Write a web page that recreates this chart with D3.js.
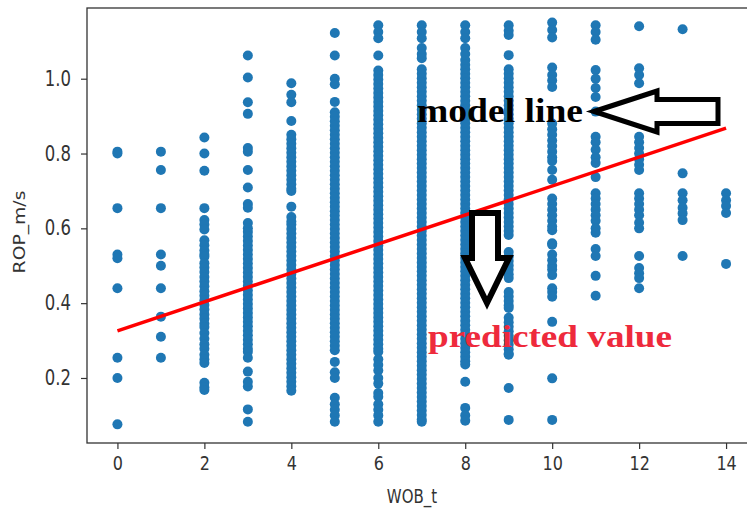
<!DOCTYPE html>
<html>
<head>
<meta charset="utf-8">
<script src="https://cdn.jsdelivr.net/npm/d3@7"></script>
<style>
  html, body { margin: 0; padding: 0; background: #ffffff; }
  svg { display: block; }
</style>
</head>
<body>
<svg id="chart" width="747" height="513"></svg>
<script>
// ---------------- data ----------------
const wobValues = [0, 1, 2, 3, 4, 5, 6, 7, 8, 9, 10, 11, 12, 13, 14];

const rop0 = [0.805, 0.80, 0.654, 0.53, 0.52, 0.44, 0.254, 0.20, 0.076];
const rop1 = [0.805, 0.756, 0.654, 0.53, 0.50, 0.44, 0.364, 0.31, 0.254];
const rop2 = [0.843, 0.80, 0.754, 0.654, 0.622, 0.61, 0.597, 0.568, 0.555, 0.541, 0.53, 0.524,
  0.507, 0.495, 0.483, 0.47, 0.458, 0.445, 0.432, 0.42, 0.408, 0.395, 0.383, 0.37, 0.358, 0.345,
  0.336, 0.32, 0.305, 0.29, 0.278, 0.262, 0.25, 0.24, 0.187, 0.175, 0.168];
const rop3 = [1.062, 1.003, 0.937, 0.906, 0.815, 0.805, 0.756, 0.709, 0.665, 0.655, 0.614, 0.60,
  0.59, 0.578, 0.566, 0.554, 0.542, 0.53, 0.518, 0.506, 0.494, 0.482, 0.47, 0.458, 0.446, 0.434,
  0.422, 0.41, 0.398, 0.386, 0.374, 0.362, 0.35, 0.338, 0.326, 0.314, 0.302, 0.29, 0.278, 0.27,
  0.254, 0.217, 0.177, 0.19, 0.116, 0.083];
const rop4 = [0.988, 0.957, 0.937, 0.887, 0.85, 0.838, 0.826, 0.814, 0.802, 0.79, 0.778, 0.766,
  0.754, 0.742, 0.73, 0.718, 0.706, 0.70, 0.658, 0.63, 0.618, 0.61, 0.598, 0.586, 0.574, 0.562,
  0.55, 0.538, 0.526, 0.514, 0.502, 0.49, 0.478, 0.466, 0.454, 0.442, 0.43, 0.418, 0.406, 0.394,
  0.382, 0.37, 0.358, 0.346, 0.334, 0.322, 0.31, 0.298, 0.286, 0.274, 0.262, 0.25, 0.238, 0.226,
  0.214, 0.202, 0.19, 0.178, 0.166];
const rop5 = [1.122, 1.062, 1.0, 0.985, 0.938, 0.91, 0.898, 0.886, 0.874, 0.862, 0.85, 0.838,
  0.826, 0.814, 0.802, 0.79, 0.778, 0.766, 0.754, 0.742, 0.73, 0.718, 0.706, 0.694, 0.682, 0.67,
  0.658, 0.646, 0.634, 0.622, 0.61, 0.598, 0.586, 0.574, 0.562, 0.55, 0.538, 0.526, 0.514, 0.502,
  0.49, 0.478, 0.466, 0.454, 0.442, 0.43, 0.418, 0.406, 0.394, 0.382, 0.37, 0.358, 0.346, 0.334,
  0.322, 0.31, 0.298, 0.286, 0.274, 0.243, 0.215, 0.20, 0.147, 0.13, 0.115, 0.10, 0.083];
const rop6 = [1.143, 1.125, 1.108, 1.062, 1.022, 1.01, 0.998, 0.986, 0.974, 0.962, 0.95, 0.938,
  0.926, 0.914, 0.902, 0.89, 0.878, 0.866, 0.854, 0.842, 0.83, 0.818, 0.806, 0.794, 0.782, 0.77,
  0.758, 0.746, 0.734, 0.722, 0.71, 0.698, 0.686, 0.674, 0.662, 0.65, 0.638, 0.626, 0.614, 0.602,
  0.59, 0.578, 0.566, 0.554, 0.542, 0.53, 0.518, 0.506, 0.494, 0.482, 0.47, 0.458, 0.446, 0.434,
  0.422, 0.41, 0.398, 0.386, 0.374, 0.362, 0.35, 0.338, 0.326, 0.314, 0.302, 0.29, 0.278, 0.27,
  0.25, 0.235, 0.22, 0.20, 0.185, 0.16, 0.15, 0.13, 0.115, 0.10, 0.083];
const rop7 = [1.143, 1.125, 1.108, 1.082, 1.066, 1.055, 1.025, 1.013, 1.001, 0.989, 0.977, 0.965,
  0.953, 0.941, 0.929, 0.917, 0.905, 0.893, 0.881, 0.869, 0.857, 0.845, 0.833, 0.821, 0.809,
  0.797, 0.785, 0.773, 0.761, 0.749, 0.737, 0.725, 0.713, 0.701, 0.689, 0.677, 0.665, 0.653,
  0.641, 0.629, 0.617, 0.605, 0.593, 0.581, 0.569, 0.557, 0.545, 0.533, 0.521, 0.509, 0.497,
  0.485, 0.473, 0.461, 0.449, 0.437, 0.425, 0.413, 0.401, 0.389, 0.377, 0.365, 0.353, 0.341,
  0.329, 0.317, 0.305, 0.293, 0.281, 0.269, 0.257, 0.245, 0.233, 0.221, 0.209, 0.197, 0.185,
  0.173, 0.161, 0.149, 0.137, 0.125, 0.113, 0.101, 0.089, 0.083];
const rop8 = [1.143, 1.125, 1.108, 1.082, 1.066, 1.05, 1.037, 1.025, 1.013, 1.001, 0.989, 0.977,
  0.965, 0.953, 0.941, 0.929, 0.917, 0.905, 0.893, 0.881, 0.869, 0.857, 0.845, 0.833, 0.821,
  0.809, 0.797, 0.785, 0.773, 0.761, 0.749, 0.737, 0.725, 0.713, 0.701, 0.689, 0.677, 0.665,
  0.653, 0.641, 0.629, 0.617, 0.605, 0.593, 0.581, 0.569, 0.557, 0.545, 0.533, 0.521, 0.509,
  0.497, 0.485, 0.473, 0.461, 0.449, 0.437, 0.425, 0.413, 0.401, 0.389, 0.377, 0.365, 0.353,
  0.341, 0.329, 0.317, 0.305, 0.293, 0.281, 0.269, 0.257, 0.245, 0.236, 0.19, 0.12, 0.10, 0.086];
const rop9 = [1.143, 1.128, 1.117, 1.063, 1.025, 1.013, 1.001, 0.989, 0.977, 0.965, 0.953, 0.941,
  0.929, 0.917, 0.905, 0.893, 0.881, 0.869, 0.857, 0.845, 0.833, 0.821, 0.809, 0.797, 0.785,
  0.773, 0.761, 0.749, 0.737, 0.725, 0.713, 0.701, 0.689, 0.677, 0.665, 0.653, 0.641, 0.629,
  0.617, 0.605, 0.593, 0.582, 0.537, 0.525, 0.513, 0.501, 0.489, 0.477, 0.467, 0.43, 0.418,
  0.406, 0.394, 0.387, 0.361, 0.349, 0.337, 0.325, 0.313, 0.301, 0.289, 0.277, 0.265, 0.262,
  0.173, 0.088];
const rop10 = [1.15, 1.13, 1.11, 1.03, 1.01, 0.995, 0.978, 0.88, 0.865, 0.85, 0.835, 0.82, 0.805,
  0.79, 0.78, 0.756, 0.73, 0.68, 0.665, 0.65, 0.635, 0.62, 0.605, 0.595, 0.56, 0.556, 0.53, 0.515,
  0.50, 0.49, 0.475, 0.44, 0.43, 0.417, 0.35, 0.199, 0.088];
const rop11 = [1.143, 1.125, 1.104, 1.023, 1.0, 0.975, 0.951, 0.912, 0.845, 0.83, 0.81, 0.79,
  0.775, 0.737, 0.694, 0.68, 0.665, 0.65, 0.635, 0.62, 0.60, 0.588, 0.545, 0.526, 0.473, 0.42];
const rop12 = [1.14, 1.028, 1.01, 0.988, 0.845, 0.83, 0.815, 0.80, 0.785, 0.77, 0.756, 0.694,
  0.68, 0.665, 0.65, 0.635, 0.615, 0.60, 0.526, 0.494, 0.48, 0.467, 0.44];
const rop13 = [1.132, 0.747, 0.694, 0.675, 0.655, 0.64, 0.622, 0.526];
const rop14 = [0.694, 0.675, 0.66, 0.641, 0.505];

const ropByWob = [rop0, rop1, rop2, rop3, rop4, rop5, rop6, rop7, rop8, rop9, rop10, rop11, rop12, rop13, rop14];

// fitted model line
const lineWob = [0, 14];
const lineRop = [0.326, 0.868];

const xTicks = [0, 2, 4, 6, 8, 10, 12, 14];
const yTicks = [0.2, 0.4, 0.6, 0.8, 1.0];

// ---------------- drawing ----------------
const svg = d3.select("#chart");
const plotLeft = 87, plotTop = 8, plotBottom = 443, plotRight = 756.5;
const stretch = 1.25; // reference text glyphs are vertically stretched

const x = d3.scaleLinear().domain([-0.7, 14.7]).range([plotLeft, plotRight]);
const y = d3.scaleLinear().domain([0.0262, 1.189]).range([plotBottom, plotTop]);

const points = [];
wobValues.forEach((w, i) => ropByWob[i].forEach(r => points.push({ w, r })));

const font = "'DejaVu Sans', sans-serif";

// scatter
svg.append("g")
  .selectAll("circle")
  .data(points)
  .join("circle")
  .attr("cx", d => x(d.w))
  .attr("cy", d => y(d.r))
  .attr("r", 5)
  .attr("fill", "#1f77b4");

// model line
svg.append("path")
  .datum(lineWob.map((w, i) => [w, lineRop[i]]))
  .attr("d", d3.line().x(d => x(d[0])).y(d => y(d[1])))
  .attr("fill", "none")
  .attr("stroke", "#ff0000")
  .attr("stroke-width", 3.5);

// axes
const xAxis = svg.append("g")
  .attr("transform", `translate(0,${plotBottom})`)
  .call(d3.axisBottom(x).tickValues(xTicks).tickFormat(d3.format("d")).tickSize(6).tickPadding(4));
const yAxis = svg.append("g")
  .attr("transform", `translate(${plotLeft},0)`)
  .call(d3.axisLeft(y).tickValues(yTicks).tickFormat(d3.format(".1f")).tickSize(6).tickPadding(10));

[xAxis, yAxis].forEach(g => {
  g.select(".domain").remove();
  g.selectAll(".tick line").attr("stroke", "#333").attr("stroke-width", 1.2);
  g.selectAll(".tick text").attr("fill", "#333").style("font-family", font).style("font-size", "16px");
});
yAxis.selectAll(".tick text").style("font-size", "16.5px");
xAxis.selectAll(".tick text").attr("transform", `scale(1,${stretch})`);
yAxis.selectAll(".tick text").attr("transform", `scale(1,${stretch})`);

// frame
svg.append("rect")
  .attr("x", plotLeft).attr("y", plotTop)
  .attr("width", plotRight - plotLeft).attr("height", plotBottom - plotTop)
  .attr("fill", "none").attr("stroke", "#333").attr("stroke-width", 1.3);

// axis labels
svg.append("text")
  .attr("transform", `translate(412,503) scale(1,${stretch})`)
  .attr("text-anchor", "middle")
  .attr("fill", "#333")
  .style("font-family", font).style("font-size", "15px")
  .text("WOB_t");
svg.append("text")
  .attr("transform", `translate(25,232) rotate(-90) scale(${stretch},1)`)
  .attr("text-anchor", "middle")
  .attr("fill", "#333")
  .style("font-family", font).style("font-size", "15px")
  .text("ROP_m/s");

// annotations
svg.append("text")
  .attr("x", 417).attr("y", 122)
  .attr("textLength", 166).attr("lengthAdjust", "spacingAndGlyphs")
  .attr("fill", "#000")
  .style("font-family", "'Liberation Serif', 'Times New Roman', serif")
  .style("font-weight", "bold").style("font-size", "33px")
  .text("model line");

svg.append("text")
  .attr("x", 428).attr("y", 347)
  .attr("textLength", 244).attr("lengthAdjust", "spacingAndGlyphs")
  .attr("fill", "#ee2a3c")
  .style("font-family", "'Liberation Serif', 'Times New Roman', serif")
  .style("font-weight", "bold").style("font-size", "32px")
  .text("predicted value");

// left-pointing hollow arrow
svg.append("path")
  .attr("d", "M594,111.5 L657,91 L657,99.5 L718,99.5 L718,123.5 L657,123.5 L657,132 Z")
  .attr("fill", "#fff").attr("stroke", "#000").attr("stroke-width", 5)
  .attr("stroke-linejoin", "miter");

// down-pointing hollow arrow
svg.append("path")
  .attr("d", "M472,213 L498,213 L498,258 L509,258 L487,303 L465,258 L472,258 Z")
  .attr("fill", "#fff").attr("stroke", "#000").attr("stroke-width", 6)
  .attr("stroke-linejoin", "miter");
</script>
</body>
</html>
